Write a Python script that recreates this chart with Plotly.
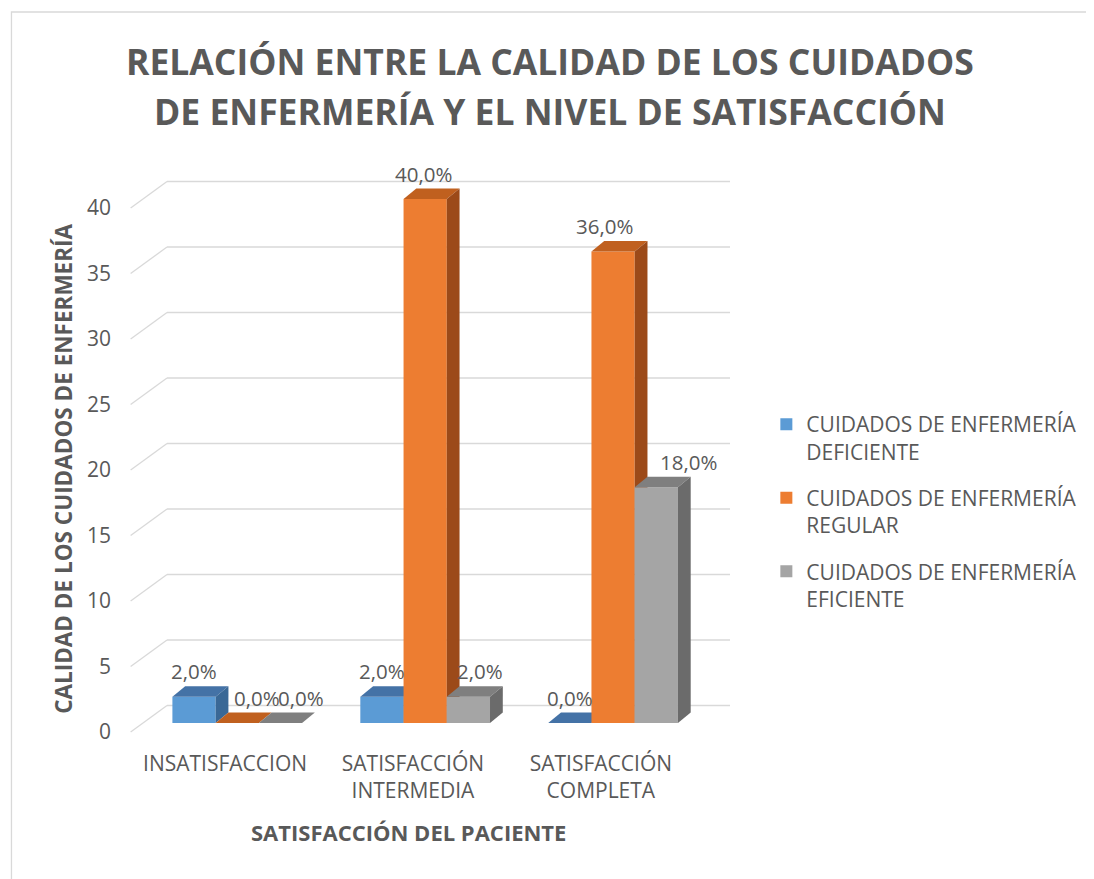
import plotly.graph_objects as go

# ---------------- data ----------------
categories = ["INSATISFACCION", "SATISFACCIÓN<br>INTERMEDIA", "SATISFACCIÓN<br>COMPLETA"]
series_names = [
    "CUIDADOS DE ENFERMERÍA<br>DEFICIENTE",
    "CUIDADOS DE ENFERMERÍA<br>REGULAR",
    "CUIDADOS DE ENFERMERÍA<br>EFICIENTE",
]
deficiente = [2, 2, 0]
regular = [0, 40, 36]
eficiente = [0, 2, 18]
y_ticks = [0, 5, 10, 15, 20, 25, 30, 35, 40]

title_line1 = "RELACIÓN ENTRE LA CALIDAD DE LOS CUIDADOS"
title_line2 = "DE ENFERMERÍA Y EL NIVEL DE SATISFACCIÓN"
x_title = "SATISFACCIÓN DEL PACIENTE"
y_title = "CALIDAD DE LOS CUIDADOS DE ENFERMERÍA"

# ---------------- style ----------------
PAGE_OFF = 8                               # browser body margin
W, H = 1094 - PAGE_OFF, 879 - PAGE_OFF     # figure size
L, R, T, B = 167, 740, 170, 745            # plot area in page pixels
S = 13.1                                   # pixels per value unit
CAT_PX = 191.25                            # pixels per category
CAT0_PX = 238.5                            # page pixel of first category centre
BAR_ZERO_PX = 723                          # front plane zero
GRID_ZERO_PX = 705.5                       # back wall zero
LABEL_ZERO_PX = 732                        # tick label zero
DEPTH_X_PX, DEPTH_Y_PX = 13, 10.5

TEXT = "#595959"
GRID = "#D9D9D9"
FONT = "Open Sans"
front_colors = ["#5B9BD5", "#ED7D31", "#A5A5A5"]
top_colors = ["#4472A6", "#C0601F", "#7F7F7F"]
side_colors = ["#3A6896", "#9C4A19", "#6B6B6B"]
label_dx = [[0, 0, 0], [20, -2, -9], [21, 12, 32]]   # label pixel nudges per series / category

def px_x(px):
    return (px - L) / (R - L)

def px_y(py):
    return (B - py) / (B - T)

def yrange(zero_px):
    return [-(B - zero_px) / S, (zero_px - T) / S]

xr = [(L - CAT0_PX) / CAT_PX, (R - CAT0_PX) / CAT_PX]
bar_w = 44 / CAT_PX
dx = DEPTH_X_PX / CAT_PX
dy = DEPTH_Y_PX / S
offsets = [-1.5 * bar_w, -0.5 * bar_w, 0.5 * bar_w]

all_series = [deficiente, regular, eficiente]
bar_axes = ["y2", "y3", "y4"]

fig = go.Figure()
annotations = []
xs = list(range(len(categories)))

for s, vals in enumerate(all_series):
    ax = bar_axes[s]
    fig.add_trace(go.Bar(
        x=xs, y=vals, width=bar_w, offset=offsets[s],
        name=series_names[s], legendgroup=str(s),
        marker=dict(color=front_colors[s], line=dict(width=0)),
        yaxis=ax, hoverinfo="skip",
    ))
    for i, v in enumerate(vals):
        xl = i + offsets[s]
        xrr = xl + bar_w
        # top face
        fig.add_trace(go.Scatter(
            x=[xl, xrr, xrr + dx, xl + dx, xl],
            y=[v, v, v + dy, v + dy, v],
            fill="toself", fillcolor=top_colors[s], mode="lines",
            line=dict(width=0, color=top_colors[s]), showlegend=False,
            hoverinfo="skip", yaxis=ax,
        ))
        # side face
        if v > 0:
            fig.add_trace(go.Scatter(
                x=[xrr, xrr + dx, xrr + dx, xrr, xrr],
                y=[0, dy, v + dy, v, 0],
                fill="toself", fillcolor=side_colors[s], mode="lines",
                line=dict(width=0, color=side_colors[s]), showlegend=False,
                hoverinfo="skip", yaxis=ax,
            ))
        annotations.append(dict(
            x=xl + bar_w / 2, y=v + dy, xref="x", yref=ax,
            text=f"{v:.1f}".replace(".", ",") + "%",
            showarrow=False, yanchor="middle", xanchor="center",
            yshift=15, xshift=label_dx[s][i],
            font=dict(family=FONT, size=20.5, color=TEXT),
        ))

# titles
annotations += [
    dict(x=px_x(557), y=px_y(61), xref="paper", yref="paper", text=f"<b>{title_line1}</b>",
         showarrow=False, xanchor="center", yanchor="middle",
         font=dict(family=FONT, size=35.5, color=TEXT)),
    dict(x=px_x(557), y=px_y(111), xref="paper", yref="paper", text=f"<b>{title_line2}</b>",
         showarrow=False, xanchor="center", yanchor="middle",
         font=dict(family=FONT, size=35.5, color=TEXT)),
    dict(x=px_x(413), y=px_y(832), xref="paper", yref="paper", text=f"<b>{x_title}</b>",
         showarrow=False, xanchor="center", yanchor="middle",
         font=dict(family=FONT, size=22, color=TEXT)),
    dict(x=px_x(61), y=px_y(469), xref="paper", yref="paper", text=f"<b>{y_title}</b>",
         showarrow=False, xanchor="center", yanchor="middle", textangle=-90,
         font=dict(family=FONT, size=22.5, color=TEXT)),
]

# back-wall gridlines and slanted connectors from tick labels
shift = (LABEL_ZERO_PX - GRID_ZERO_PX) / S
shapes = []
for t in y_ticks:
    shapes.append(dict(type="line", xref="paper", yref="y",
                       x0=0, x1=1, y0=t + shift, y1=t + shift,
                       line=dict(color=GRID, width=1.3), layer="below"))
    shapes.append(dict(type="line", xref="paper", yref="y",
                       x0=px_x(130), x1=0, y0=t, y1=t + shift,
                       line=dict(color=GRID, width=1.3), layer="below"))
# chart border
shapes.append(dict(type="rect", xref="paper", yref="paper",
                   x0=px_x(PAGE_OFF + 0.7), x1=px_x(1120), y0=px_y(12), y1=px_y(900),
                   line=dict(color=GRID, width=1.3), fillcolor="rgba(0,0,0,0)", layer="below"))

hidden = dict(overlaying="y", range=yrange(BAR_ZERO_PX), visible=False, fixedrange=True)

fig.update_layout(
    width=W, height=H,
    margin=dict(l=L - PAGE_OFF, r=W - (R - PAGE_OFF), t=T - PAGE_OFF, b=H - (B - PAGE_OFF)),
    paper_bgcolor="white", plot_bgcolor="rgba(0,0,0,0)",
    showlegend=True,
    barmode="overlay",
    xaxis=dict(range=xr, tickvals=[i - 0.065 for i in xs], ticktext=categories,
               showgrid=False, zeroline=False, showline=False, ticks="",
               ticklabelstandoff=4,
               tickfont=dict(family=FONT, size=21, color=TEXT), fixedrange=True),
    yaxis=dict(range=yrange(LABEL_ZERO_PX), tickvals=y_ticks, showticklabels=True,
               showgrid=False, zeroline=False, showline=False, ticks="",
               ticklabelstandoff=55,
               tickfont=dict(family=FONT, size=21, color=TEXT), fixedrange=True),
    yaxis2=hidden, yaxis3=hidden, yaxis4=hidden,
    legend=dict(x=px_x(777), y=px_y(404), xanchor="left", yanchor="top",
                font=dict(family=FONT, size=21, color=TEXT), valign="top",
                tracegroupgap=16, bgcolor="rgba(0,0,0,0)"),
    annotations=annotations,
    shapes=shapes,
)

fig.write_html("out.html")
